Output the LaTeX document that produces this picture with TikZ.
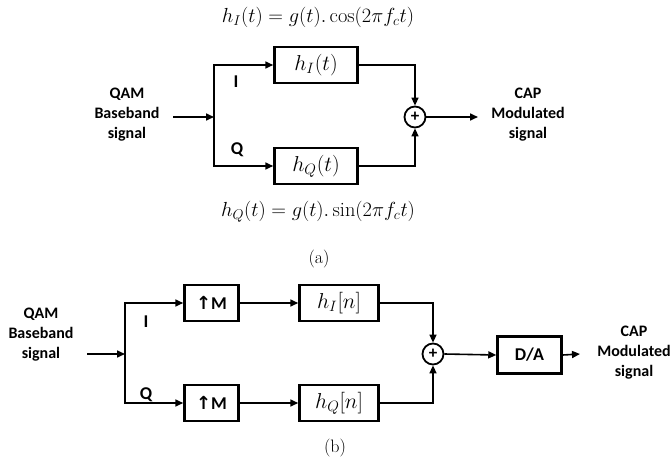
\documentclass[tikz,border=0pt]{standalone}
\usepackage{fontspec}
\usepackage{graphicx}
\newfontfamily\carl{Carlito}
\newfontfamily\djv{DejaVu Sans}
\usetikzlibrary{arrows.meta}
\newcommand{\mfor}[1]{\scalebox{1.18}{$#1$}}
\newcommand{\mblk}[1]{\scalebox{1.25}{$#1$}}
\tikzset{
  blk/.style={draw, line width=2.5pt, inner sep=0pt, minimum height=36pt},
  sumnode/.style={circle, draw, line width=1.8pt, minimum size=21pt, inner sep=0pt,
     font=\carl\bfseries\fontsize{17}{17}\selectfont},
  conn/.style={line width=1.6pt},
  arr/.style={conn, -{Triangle[length=8pt,width=7pt]}},
  lbl/.style={align=center, font=\carl\bfseries\fontsize{16}{20}\selectfont},
  iq/.style={font=\carl\bfseries\fontsize{18}{18}\selectfont},
  mth/.style={font=\fontsize{17.28}{21}\selectfont},
  subcap/.style={font=\fontsize{18}{20}\selectfont}
}
\begin{document}
\begin{tikzpicture}[x=1pt,y=-1pt]
\useasboundingbox (0,0) rectangle (672,463);
% ---------- (a) ----------
\node[mth] (fa) at (318,17) {\mfor{h_I(t) = g(t).\cos(2\pi f_c t)}};
\node[mth] (fb) at (318,212) {\mfor{h_Q(t) = g(t).\sin(2\pi f_c t)}};
\node[blk, mth, minimum width=83pt] (hI) at (316,65) {\mblk{h_I(t)}};
\node[blk, mth, minimum width=83pt] (hQ) at (316,166) {\mblk{h_Q(t)}};
\node[sumnode] (sA) at (415,117) {+};
\node[lbl] (qamA) at (127,115) {QAM\\Baseband\\signal};
\node[lbl] (capA) at (528,115) {CAP\\Modulated\\signal};
\node[iq] (IA) at (236,82) {I};
\node[iq] (QA) at (237,150) {Q};
\coordinate (inA) at (173,117);
\coordinate (brA) at (214,117);
\coordinate (outA) at (478,117);
\draw[arr] (inA) -- (brA);
\draw[arr] (brA) |- (hI.west);
\draw[arr] (brA) |- (hQ.west);
\draw[arr] (hI.east) -| (sA.north);
\draw[arr] (hQ.east) -| (sA.south);
\draw[arr] (sA.east) -- (outA);
\node[subcap] (ca) at (319,259) {(a)};
% ---------- (b) ----------
\node[blk, iq, minimum width=54pt] (uI) at (211.5,303) {{\djv\bfseries ↑}M};
\node[blk, iq, minimum width=54pt] (uQ) at (211.5,403) {{\djv\bfseries ↑}M};
\node[blk, mth, minimum width=79pt] (hIn) at (339,303) {\mblk{h_I[n]}};
\node[blk, mth, minimum width=79pt] (hQn) at (339,403) {\mblk{h_Q[n]}};
\node[sumnode] (sB) at (433,354) {+};
\node[blk, iq, minimum width=64pt, minimum height=37pt] (da) at (529.5,355) {D/A};
\node[lbl] (qamB) at (41,335) {QAM\\Baseband\\signal};
\node[lbl] (capB) at (634,353) {CAP\\Modulated\\signal};
\node[iq] (IB) at (146,322) {I};
\node[iq] (QB) at (146,395) {Q};
\coordinate (inB) at (87,354);
\coordinate (brB) at (125,354);
\coordinate (outB) at (580,354);
\draw[arr] (inB) -- (brB);
\draw[arr] (brB) |- (uI.west);
\draw[arr] (brB) |- (uQ.west);
\draw[arr] (uI.east) -- (hIn.west);
\draw[arr] (uQ.east) -- (hQn.west);
\draw[arr] (hIn.east) -| (sB.north);
\draw[arr] (hQn.east) -| (sB.south);
\draw[arr] (sB.east) -- (da.west);
\draw[arr] (da.east) -- (outB);
\node[subcap] (cb) at (335,448) {(b)};
\end{tikzpicture}
\end{document}
